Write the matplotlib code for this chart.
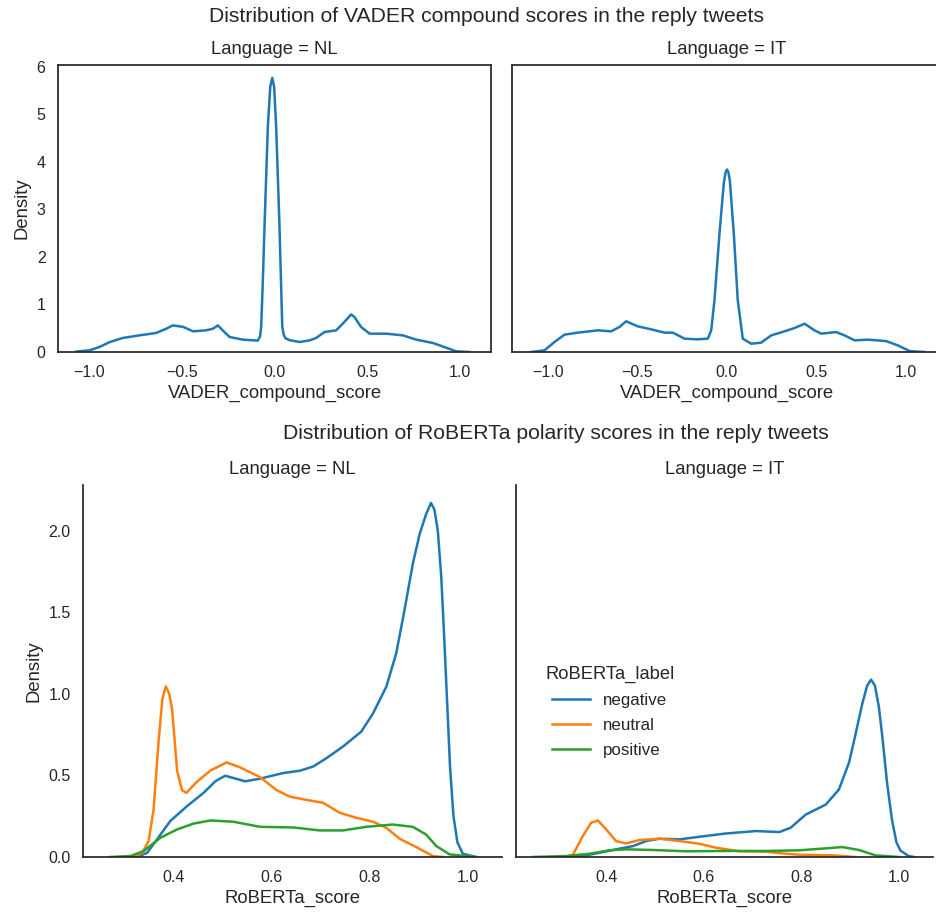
import matplotlib
matplotlib.use("Agg")
import matplotlib.pyplot as plt
from matplotlib.lines import Line2D

# VADER compound score densities
vader_nl_x = [-1.07, -1.0, -0.946, -0.89, -0.82, -0.73, -0.64, -0.585, -0.55, -0.495, -0.44, -0.37,
              -0.333, -0.306, -0.28, -0.243, -0.171, -0.09, -0.078, -0.072, -0.063, -0.054, -0.036,
              -0.023, -0.012, -0.002, 0.009, 0.027, 0.035, 0.042, 0.05, 0.059, 0.081, 0.135, 0.19,
              0.225, 0.27, 0.333, 0.37, 0.414, 0.432, 0.468, 0.514, 0.604, 0.694, 0.766, 0.856,
              0.928, 0.982, 1.054]
vader_nl_y = [0.01, 0.035, 0.105, 0.21, 0.295, 0.35, 0.40, 0.49, 0.56, 0.53, 0.435, 0.456,
              0.49, 0.56, 0.456, 0.316, 0.26, 0.24, 0.33, 0.53, 1.5, 2.64, 4.74,
              5.58, 5.77, 5.58, 4.74, 2.64, 1.5, 0.53, 0.36, 0.29, 0.25, 0.21, 0.245,
              0.295, 0.42, 0.456, 0.6, 0.79, 0.737, 0.526, 0.386, 0.386, 0.35, 0.26, 0.19,
              0.09, 0.014, 0.0]

vader_it_x = [-1.093, -1.019, -0.963, -0.907, -0.833, -0.721, -0.647, -0.6, -0.563, -0.498, -0.423,
              -0.349, -0.302, -0.237, -0.163, -0.107, -0.088, -0.07, -0.042, -0.018, -0.008, 0.0,
              0.008, 0.016, 0.038, 0.06, 0.088, 0.135, 0.19, 0.247, 0.321, 0.377, 0.433, 0.488,
              0.526, 0.609, 0.656, 0.712, 0.786, 0.888, 0.953, 1.019, 1.102]
vader_it_y = [0.0, 0.035, 0.21, 0.365, 0.407, 0.456, 0.435, 0.526, 0.646, 0.54, 0.477,
              0.407, 0.407, 0.28, 0.267, 0.28, 0.456, 1.09, 2.49, 3.55, 3.78, 3.84,
              3.78, 3.6, 2.49, 1.09, 0.28, 0.175, 0.196, 0.35, 0.435, 0.505, 0.596, 0.456,
              0.386, 0.42, 0.35, 0.245, 0.26, 0.23, 0.14, 0.02, 0.0]

# RoBERTa score densities per label
labels = ["negative", "neutral", "positive"]
colors = ["#1f77b4", "#ff7f0e", "#2ca02c"]

nl_neg_x = [0.325, 0.346, 0.366, 0.393, 0.427, 0.461, 0.485, 0.505, 0.522, 0.546, 0.576, 0.624,
            0.658, 0.685, 0.712, 0.746, 0.783, 0.807, 0.834, 0.854, 0.871, 0.888, 0.902, 0.915,
            0.925, 0.932, 0.939, 0.946, 0.952, 0.958, 0.964, 0.971, 0.979, 0.99, 1.017]
nl_neg_y = [0.0, 0.026, 0.108, 0.22, 0.311, 0.393, 0.464, 0.498, 0.484, 0.464, 0.48, 0.515,
            0.529, 0.555, 0.606, 0.678, 0.769, 0.881, 1.044, 1.247, 1.512, 1.797, 1.98, 2.10,
            2.17, 2.13, 2.0, 1.72, 1.35, 0.95, 0.55, 0.25, 0.09, 0.02, 0.0]
nl_neu_x = [0.319, 0.336, 0.349, 0.359, 0.369, 0.377, 0.384, 0.391, 0.397, 0.407, 0.417, 0.426,
            0.447, 0.475, 0.508, 0.535, 0.576, 0.61, 0.637, 0.671, 0.705, 0.739, 0.773, 0.807,
            0.834, 0.861, 0.895, 0.929, 0.949]
nl_neu_y = [0.0, 0.025, 0.10, 0.29, 0.70, 0.97, 1.046, 1.0, 0.90, 0.53, 0.41, 0.393,
            0.46, 0.53, 0.58, 0.55, 0.49, 0.41, 0.37, 0.35, 0.332, 0.271, 0.24, 0.216,
            0.179, 0.112, 0.061, 0.006, 0.0]
nl_pos_x = [0.271, 0.312, 0.339, 0.373, 0.407, 0.441, 0.475, 0.522, 0.576, 0.644, 0.698, 0.746,
            0.793, 0.847, 0.888, 0.915, 0.936, 0.963, 1.017]
nl_pos_y = [0.0, 0.006, 0.037, 0.118, 0.169, 0.205, 0.224, 0.216, 0.185, 0.181, 0.163, 0.163,
            0.185, 0.199, 0.185, 0.138, 0.067, 0.016, 0.0]

it_neg_x = [0.318, 0.359, 0.386, 0.42, 0.455, 0.482, 0.509, 0.55, 0.591, 0.645, 0.707, 0.755,
            0.778, 0.809, 0.85, 0.877, 0.898, 0.911, 0.925, 0.935, 0.943, 0.951, 0.959, 0.966,
            0.976, 0.986, 0.995, 1.003, 1.02, 1.031]
it_neg_y = [0.0, 0.01, 0.026, 0.047, 0.067, 0.098, 0.112, 0.108, 0.124, 0.144, 0.159, 0.153,
            0.179, 0.26, 0.321, 0.413, 0.58, 0.75, 0.94, 1.05, 1.087, 1.05, 0.92, 0.74,
            0.45, 0.226, 0.09, 0.04, 0.006, 0.0]
it_neu_x = [0.318, 0.332, 0.352, 0.369, 0.383, 0.4, 0.42, 0.441, 0.468, 0.509, 0.55, 0.591,
            0.625, 0.673, 0.727, 0.761, 0.795, 0.864, 0.911]
it_neu_y = [0.0, 0.016, 0.128, 0.21, 0.224, 0.169, 0.098, 0.083, 0.104, 0.112, 0.098, 0.081,
            0.057, 0.035, 0.033, 0.022, 0.014, 0.01, 0.0]
it_pos_x = [0.25, 0.318, 0.366, 0.407, 0.441, 0.495, 0.564, 0.645, 0.727, 0.795, 0.85, 0.884,
            0.918, 0.952, 1.0]
it_pos_y = [0.0, 0.006, 0.02, 0.041, 0.047, 0.043, 0.035, 0.037, 0.037, 0.041, 0.053, 0.061,
            0.043, 0.01, 0.0]

vader_ticks = [-1.0, -0.5, 0.0, 0.5, 1.0]
vader_yticks = [0, 1, 2, 3, 4, 5, 6]
rob_ticks = [0.4, 0.6, 0.8, 1.0]
rob_yticks = [0.0, 0.5, 1.0, 1.5, 2.0]

txt = "#262626"
plt.rcParams["font.family"] = ["Liberation Sans", "DejaVu Sans"]
plt.rcParams["text.color"] = txt
plt.rcParams["axes.labelcolor"] = txt
plt.rcParams["xtick.color"] = txt
plt.rcParams["ytick.color"] = txt
plt.rcParams["axes.edgecolor"] = txt
plt.rcParams["axes.linewidth"] = 1.25

fig = plt.figure(figsize=(9.36, 9.13), dpi=100)
W, H = 936, 913


def make_ax(x0, y0, x1, y1):
    # pixel box -> figure fraction
    return fig.add_axes([x0 / W, 1 - y1 / H, (x1 - x0) / W, (y1 - y0) / H])


def style(ax, xt, yt, show_y):
    ax.set_xticks(xt)
    ax.set_yticks(yt)
    ax.tick_params(length=0, pad=9, labelsize=11.5)
    if not show_y:
        ax.tick_params(labelleft=False)


# top row: VADER
ax1 = make_ax(58, 65, 491, 352)
ax2 = make_ax(512, 65, 942, 352)
ax1.plot(vader_nl_x, vader_nl_y, color=colors[0], lw=1.8)
ax2.plot(vader_it_x, vader_it_y, color=colors[0], lw=1.8)
ax1.set_xlim(-1.17, 1.17)
ax2.set_xlim(-1.2, 1.2)
for ax, name in [(ax1, "NL"), (ax2, "IT")]:
    ax.set_ylim(0, 6.04)
    ax.set_title("Language = " + name, fontsize=13.3, pad=8)
    ax.set_xlabel("VADER_compound_score", fontsize=13.3)
style(ax1, vader_ticks, vader_yticks, True)
style(ax2, vader_ticks, vader_yticks, False)
ax1.set_ylabel("Density", fontsize=13.3)
fig.text(486 / W, 1 - 16 / H, "Distribution of VADER compound scores in the reply tweets",
         ha="center", va="center", fontsize=15.2)

# bottom row: RoBERTa
ax3 = make_ax(83, 485, 502, 857)
ax4 = make_ax(516, 485, 933, 857)
for ax, data, name in [
    (ax3, [(nl_neg_x, nl_neg_y), (nl_neu_x, nl_neu_y), (nl_pos_x, nl_pos_y)], "NL"),
    (ax4, [(it_neg_x, it_neg_y), (it_neu_x, it_neu_y), (it_pos_x, it_pos_y)], "IT"),
]:
    for (xs, ys), c in zip(data, colors):
        ax.plot(xs, ys, color=c, lw=1.8)
    ax.set_xlim(0.215, 1.07)
    ax.set_ylim(0, 2.28)
    ax.spines["top"].set_visible(False)
    ax.spines["right"].set_visible(False)
    ax.set_title("Language = " + name, fontsize=13.3, pad=8)
    ax.set_xlabel("RoBERTa_score", fontsize=13.3)
style(ax3, rob_ticks, rob_yticks, True)
style(ax4, rob_ticks, rob_yticks, False)
ax3.set_ylabel("Density", fontsize=13.3)
fig.text(556 / W, 1 - 433 / H, "Distribution of RoBERTa polarity scores in the reply tweets",
         ha="center", va="center", fontsize=15.2)

handles = [Line2D([], [], color=c, lw=1.8) for c in colors]
fig.legend(handles, labels, title="RoBERTa_label", loc="upper center",
           bbox_to_anchor=(610 / W, 1 - 651 / H), frameon=False,
           fontsize=12.2, title_fontsize=13.2, handlelength=2.2,
           labelspacing=0.58, handletextpad=0.8)

fig.savefig("out.png", dpi=100)
